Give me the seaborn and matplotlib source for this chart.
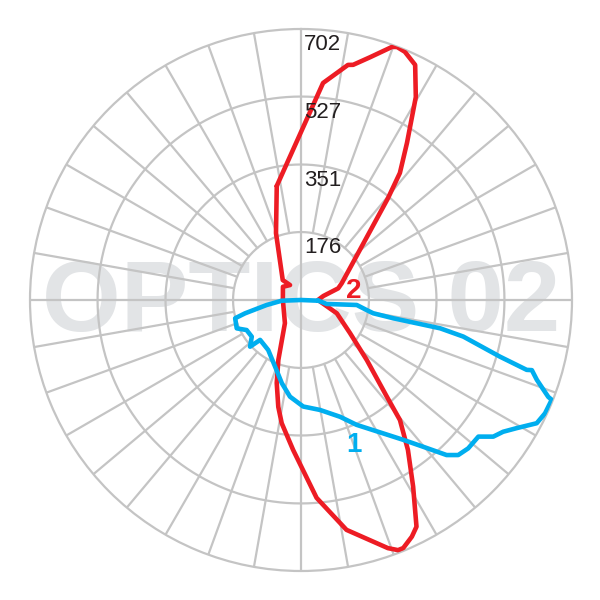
import numpy as np
import matplotlib

matplotlib.use("Agg")
import matplotlib.pyplot as plt
import seaborn as sns

# curve "2" (red): angle in degrees, clockwise from the top, intensity
curve2_angle = [348.0, 5.8, 11.3, 12.5, 15.9, 19.8, 20.8, 22.7, 25.9, 29.5,
                34.0, 37.9, 40.5, 67.7, 72.6, 79.8, 90.0, 110.4, 124.0, 132.4,
                138.4, 140.5, 144.5, 149.0, 153.0, 154.9, 157.6, 158.8, 160.7, 168.8,
                175.5, 183.0, 188.9, 192.0, 196.3, 200.7, 214.8, 259.4, 270.0, 306.2,
                323.7, 317.5, 339.5]
curve2_value = [302, 565, 621, 624, 654, 697, 701, 697, 677, 604,
                491, 417, 347, 114, 101, 59, 44, 99, 153, 231,
                335, 403, 477, 564, 659, 677, 695, 695, 681, 607,
                514, 389, 323, 283, 224, 166, 73, 47, 47, 58,
                48, 70, 185]

# curve "1" (blue)
curve1_angle = [92.3, 98.8, 95.1, 98.7, 100.4, 101.2, 101.5, 102.7, 105.9, 107.2,
                106.9, 108.7, 111.4, 111.7, 114.9, 117.6, 120.7, 123.1, 125.4, 127.6,
                131.6, 134.6, 136.8, 140.2, 143.8, 156.0, 161.5, 170.2, 178.8, 186.5,
                193.0, 201.3, 213.2, 225.7, 227.5, 233.3, 241.1, 246.2, 254.5, 256.6,
                261.7, 267.9, 180.0]
curve1_value = [45, 67, 145, 172, 190, 244, 368, 431, 536, 612,
                625, 645, 688, 699, 697, 689, 650, 625, 611, 580,
                579, 572, 551, 495, 449, 354, 319, 289, 276, 252,
                221, 185, 155, 148, 179, 159, 161, 182, 177, 149,
                90, 50, 0]

ring_values = [176, 351, 527, 702]
spoke_step = 10
watermark = "OPTICS 02"

RED = "#ed1c24"
BLUE = "#00aeef"
GRID = "#c4c4c4"

sns.set_style("white")
plt.rcParams["font.family"] = ["Liberation Sans", "DejaVu Sans"]

fig = plt.figure(figsize=(6, 6), dpi=100)
ax = fig.add_axes([30 / 600, 29 / 600, 542 / 600, 542 / 600], projection="polar")
ax.set_theta_zero_location("N")
ax.set_theta_direction(-1)
rmax = ring_values[-1]

# grid: rings, spokes every 10 deg starting at the first ring
full = np.linspace(0, 2 * np.pi, 721)
for v in ring_values[:-1]:
    ax.plot(full, np.full_like(full, v), color=GRID, lw=1.6, zorder=1)
for a in range(0, 360, spoke_step):
    r0 = 0 if a % 90 == 0 else ring_values[0]
    ax.plot([np.deg2rad(a)] * 2, [r0, rmax], color=GRID, lw=1.6, zorder=1)
ax.spines["polar"].set_edgecolor(GRID)
ax.spines["polar"].set_linewidth(1.6)

ax.text(0.5, (571 - 331) / 542, watermark, transform=ax.transAxes,
        ha="center", va="baseline", fontsize=73, fontweight="bold",
        color="#e2e4e6", zorder=0.5)


def closed(angles, values):
    t = np.deg2rad(np.r_[angles, angles[0]])
    r = np.r_[values, values[0]]
    return t, r


for ang, val, col in [(curve2_angle, curve2_value, RED),
                      (curve1_angle, curve1_value, BLUE)]:
    t, r = closed(ang, val)
    sns.lineplot(x=t, y=r, sort=False, estimator=None, color=col,
                 linewidth=3.3, ax=ax, zorder=3)

for v in ring_values:
    ax.annotate(str(v), xy=(0, v), xytext=(2, -15.4), textcoords="offset points",
                ha="left", va="baseline", fontsize=16, color="#231f20", zorder=4)

ax.text(np.deg2rad(88.1), 135.5, "2", color=RED, fontsize=20, fontweight="bold",
        ha="center", va="baseline", zorder=4)
ax.text(np.deg2rad(160.7), 416.5, "1", color=BLUE, fontsize=20, fontweight="bold",
        ha="center", va="baseline", zorder=4)

ax.set_xticks([])
ax.set_yticks([])
ax.set_xlabel("")
ax.set_ylabel("")
ax.set_ylim(0, rmax)

fig.savefig("out.png", dpi=100, facecolor="white")
